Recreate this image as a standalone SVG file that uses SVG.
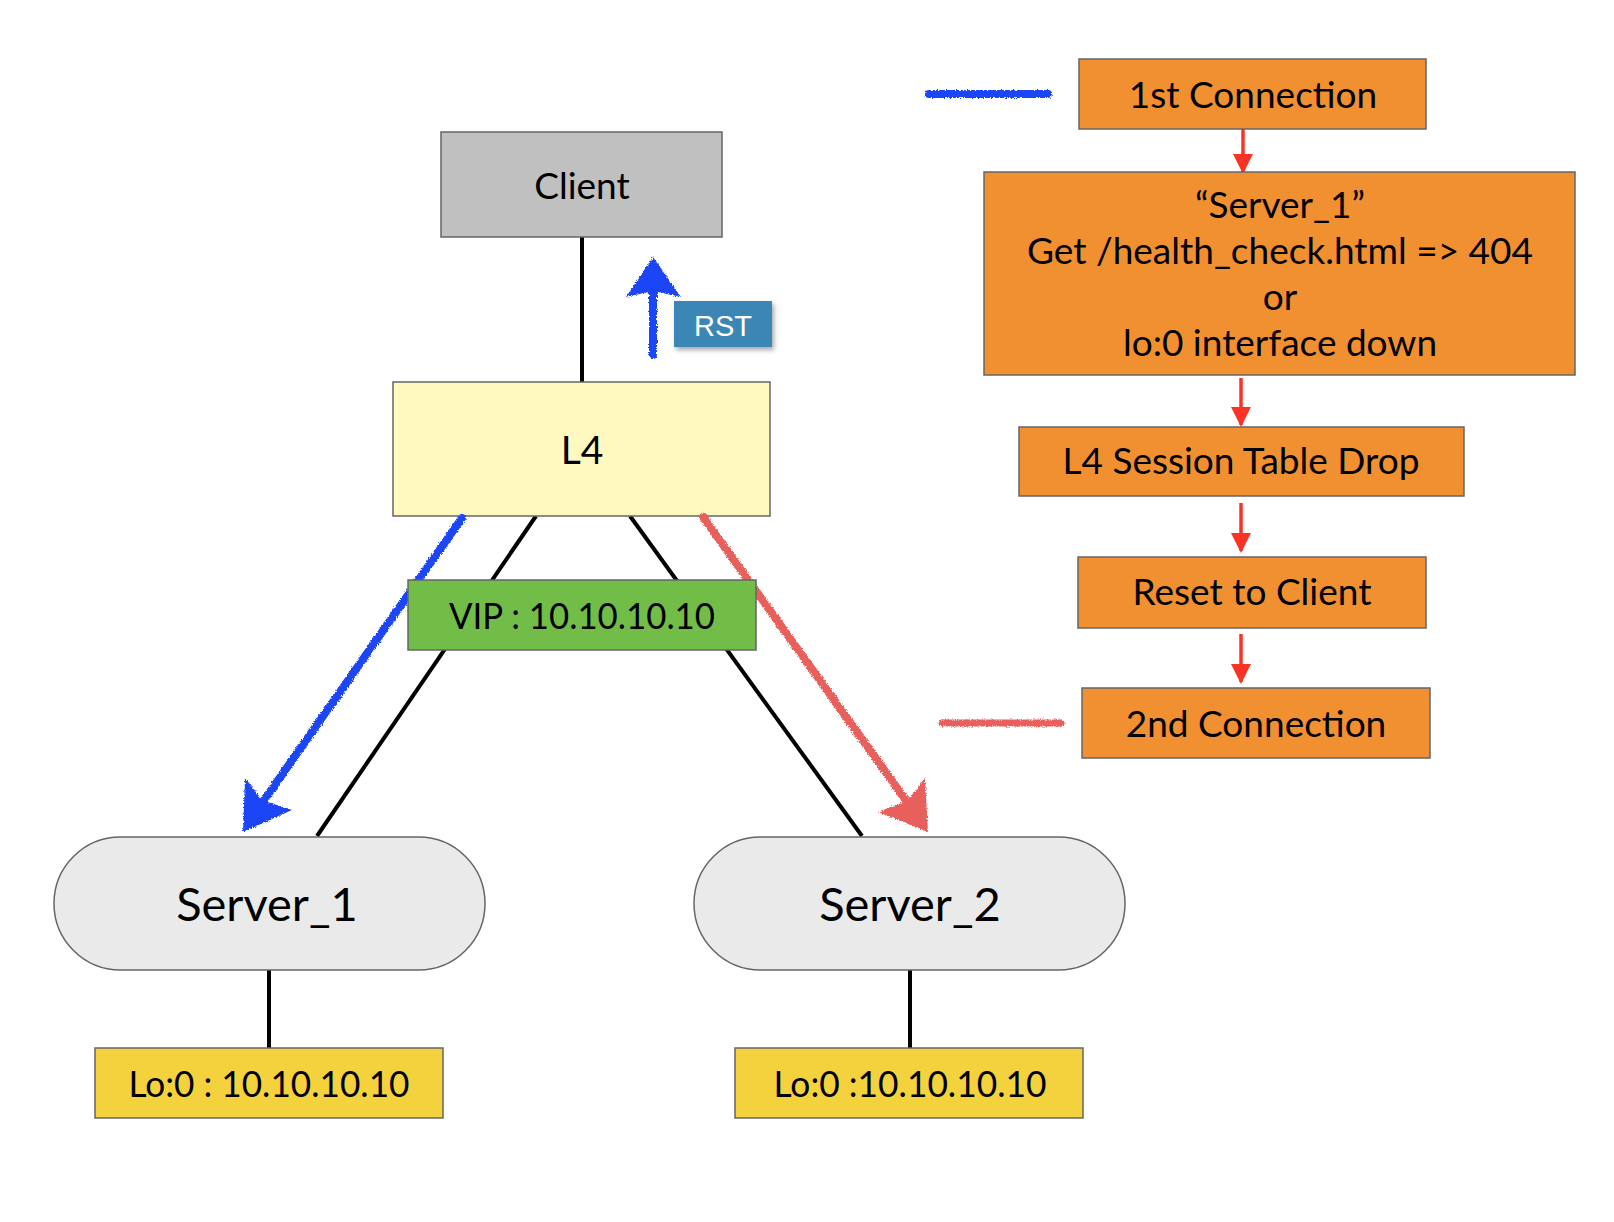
<svg xmlns="http://www.w3.org/2000/svg" width="1614" height="1222" viewBox="0 0 1614 1222">
<style>
  .lbl { font-family: Lato, "Noto Sans", sans-serif; fill: #000; text-anchor: middle; }
  .box { stroke: #666; stroke-width: 1.5; }
  .orange { fill: #f09030; }
  .edge { stroke: #000; stroke-width: 4; fill: none; }
  .flow { stroke: #fa3324; stroke-width: 3.5; fill: none; }
  .blue { stroke: #1a44f5; fill: none; stroke-linecap: round; }
  .bluef { fill: #1a44f5; }
  .red { stroke: #e8605c; fill: none; stroke-linecap: round; }
  .redf { fill: #e8605c; }
</style>
<defs>
  <marker id="ah" viewBox="0 0 20 20" refX="18" refY="10" markerWidth="20" markerHeight="20" markerUnits="userSpaceOnUse" orient="auto">
    <path d="M0,0 L20,10 L0,20 Z" fill="#fa3324"/>
  </marker>
  <filter id="rough" x="-10%" y="-10%" width="120%" height="120%">
    <feTurbulence type="fractalNoise" baseFrequency="0.8" numOctaves="2" seed="3" result="n"/>
    <feDisplacementMap in="SourceGraphic" in2="n" scale="4" xChannelSelector="R" yChannelSelector="G"/>
  </filter>
  <filter id="shadow" x="-20%" y="-20%" width="150%" height="160%">
    <feDropShadow dx="2" dy="3" stdDeviation="2.5" flood-color="#000" flood-opacity="0.35"/>
  </filter>
</defs>

<rect width="1614" height="1222" fill="#fff"/>

<g id="connectors">
  <line class="edge" x1="582" y1="237" x2="582" y2="382"/>
  <line class="edge" x1="536" y1="516" x2="317" y2="836"/>
  <line class="edge" x1="630" y1="516" x2="862" y2="836"/>
  <line class="edge" x1="269" y1="970" x2="269" y2="1048"/>
  <line class="edge" x1="910" y1="970" x2="910" y2="1048"/>
  <line class="flow" x1="1243" y1="126" x2="1243" y2="172" marker-end="url(#ah)"/>
  <line class="flow" x1="1241" y1="378" x2="1241" y2="425" marker-end="url(#ah)"/>
  <line class="flow" x1="1241" y1="503" x2="1241" y2="551" marker-end="url(#ah)"/>
  <line class="flow" x1="1241" y1="634" x2="1241" y2="682" marker-end="url(#ah)"/>
</g>

<g id="client">
  <rect class="box" x="441" y="132" width="281" height="105" fill="#c0c0c0"/>
  <text class="lbl" x="582" y="199" font-size="37">Client</text>
</g>

<g id="l4">
  <rect class="box" x="393" y="382" width="377" height="134" fill="#fff8bf"/>
  <text class="lbl" x="582" y="464" font-size="39">L4</text>
</g>

<g id="server1">
  <rect class="box" x="54" y="837" width="431" height="133" rx="66.5" fill="#eaeaea"/>
  <text class="lbl" x="267" y="921" font-size="47">Server_1</text>
</g>

<g id="server2">
  <rect class="box" x="694" y="837" width="431" height="133" rx="66.5" fill="#eaeaea"/>
  <text class="lbl" x="910" y="921" font-size="47">Server_2</text>
</g>

<g id="lo1">
  <rect class="box" x="95" y="1048" width="348" height="70" fill="#f4d23e"/>
  <text class="lbl" x="269" y="1097" font-size="37" textLength="281" lengthAdjust="spacingAndGlyphs">Lo:0 : 10.10.10.10</text>
</g>

<g id="lo2">
  <rect class="box" x="735" y="1048" width="348" height="70" fill="#f4d23e"/>
  <text class="lbl" x="910" y="1097" font-size="37" textLength="273" lengthAdjust="spacingAndGlyphs">Lo:0 :10.10.10.10</text>
</g>

<g id="flow-arrows" filter="url(#rough)">
  <line class="blue" x1="462" y1="518" x2="260" y2="806" stroke-width="8"/>
  <path class="bluef" d="M243,832 L245,778 L262,800 L292,810 Z"/>
  <line class="red" x1="703" y1="517" x2="910" y2="806" stroke-width="8"/>
  <path class="redf" d="M928,832 L925,778 L908,800 L878,812 Z"/>
  <line class="blue" x1="653" y1="292" x2="653" y2="355" stroke-width="8"/>
  <path class="bluef" d="M653,257 L681,297 L653,291 L626,297 Z"/>
  <line class="blue" x1="929" y1="94" x2="1048" y2="94" stroke-width="8"/>
  <line class="red" x1="942" y1="723" x2="1061" y2="723" stroke-width="7"/>
</g>

<g id="vip">
  <rect class="box" x="408" y="580" width="348" height="70" fill="#72bd48"/>
  <text class="lbl" x="582" y="629" font-size="37" textLength="266" lengthAdjust="spacingAndGlyphs">VIP : 10.10.10.10</text>
</g>

<g id="rst">
  <rect x="674" y="301" width="98" height="46" fill="#3a86b5" filter="url(#shadow)"/>
  <text x="723" y="336" font-size="29" fill="#fff" text-anchor="middle" font-family="'Liberation Sans', Arial, sans-serif">RST</text>
</g>

<g id="first-conn">
  <rect class="box orange" x="1079" y="59" width="347" height="70"/>
  <text class="lbl" x="1253" y="108" font-size="37">1st Connection</text>
</g>

<g id="health">
  <rect class="box orange" x="984" y="172" width="591" height="203"/>
  <text class="lbl" x="1280" y="218" font-size="37">“Server_1”</text>
  <text class="lbl" x="1280" y="264" font-size="37">Get /health_check.html =&gt; 404</text>
  <text class="lbl" x="1280" y="310" font-size="37">or</text>
  <text class="lbl" x="1280" y="356" font-size="37">lo:0 interface down</text>
</g>

<g id="session-drop">
  <rect class="box orange" x="1019" y="427" width="445" height="69"/>
  <text class="lbl" x="1241" y="474" font-size="37">L4 Session Table Drop</text>
</g>

<g id="reset">
  <rect class="box orange" x="1078" y="557" width="348" height="71"/>
  <text class="lbl" x="1252" y="605" font-size="37">Reset to Client</text>
</g>

<g id="second-conn">
  <rect class="box orange" x="1082" y="688" width="348" height="70"/>
  <text class="lbl" x="1256" y="737" font-size="37">2nd Connection</text>
</g>
</svg>
